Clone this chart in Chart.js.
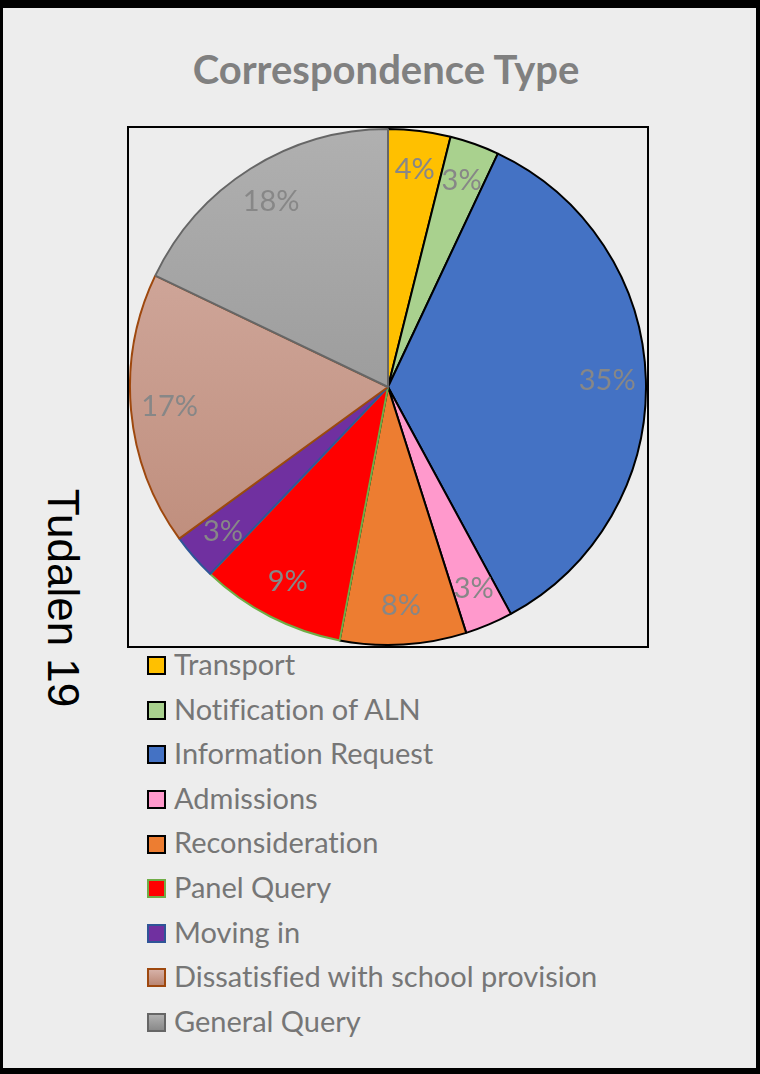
<!DOCTYPE html>
<html>
<head>
<meta charset="utf-8">
<script src="https://cdn.jsdelivr.net/npm/chart.js@4.4.1/dist/chart.umd.min.js"></script>
<style>
  html, body { margin: 0; padding: 0; background: #000; }
  #page { position: relative; width: 760px; height: 1074px; background: #000; overflow: hidden; }
  #inner { position: absolute; left: 3px; top: 8px; width: 753px; height: 1060px; background: #EDEDED; }
  #title { position: absolute; left: 136px; top: 43px; width: 500px; text-align: center;
           font: bold 40px Lato, "Open Sans", sans-serif; color: #808080; line-height: 52px; }
  #plotBox { position: absolute; left: 127px; top: 126px; width: 518px; height: 518px; border: 2px solid #000; }
  #side { position: absolute; left: 63px; top: 598px; transform: translate(-50%, -50%) rotate(90deg);
          font: 44px "Liberation Sans", Arial, sans-serif; color: #000; white-space: nowrap; }
  .leg { position: absolute; left: 147px; height: 30px; line-height: 30px; white-space: nowrap;
         font: 29px Lato, "Open Sans", sans-serif; color: #767676; font-variant-ligatures: none; }
  .leg span { display: inline-block; width: 15px; height: 15px; border: 2px solid #000;
              vertical-align: middle; margin-right: 8px; position: relative; top: -2px; }
</style>
</head>
<body>
<div id="page">
  <div id="inner"></div>
  <div id="title">Correspondence Type</div>
  <div id="plotBox"><canvas id="pie" width="518" height="518"></canvas></div>
  <div id="side">Tudalen 19</div>
  <div id="legend"></div>
</div>
<script>
// Categorïau a gwerthoedd (canran, wedi'u darllen o'r llun)
const categories = [
  'Transport',
  'Notification of ALN',
  'Information Request',
  'Admissions',
  'Reconsideration',
  'Panel Query',
  'Moving in',
  'Dissatisfied with school provision',
  'General Query'
];
const shares = [3.9, 3.1, 35.1, 3.0, 7.9, 9.1, 2.9, 17.1, 17.9];

// Lliwiau'r sleisys: un lliw, neu [top, gwaelod] ar gyfer graddiant
const sliceColors = [
  '#FFC000', '#A9D18E', '#4472C4', '#FF99CC', '#ED7D31',
  '#FF0000', '#7030A0', ['#D6B1A7', '#BA8673'], ['#B0B0B0', '#8A8A8A']
];
const sliceBorders = [
  '#000000', '#000000', '#000000', '#000000', '#000000',
  '#70AD47', '#2F5597', '#9E480E', '#666666'
];

const total = shares.reduce((a, b) => a + b, 0);

function fillFor(chart, i) {
  const c = sliceColors[i];
  if (!Array.isArray(c)) return c;
  const area = chart.chartArea;
  if (!area) return c[1];
  const g = chart.ctx.createLinearGradient(0, area.top, 0, area.bottom);
  g.addColorStop(0, c[0]);
  g.addColorStop(1, c[1]);
  return g;
}

// Labeli canran ar y sleisys
const sliceLabels = {
  id: 'sliceLabels',
  afterDatasetsDraw(chart) {
    const ctx = chart.ctx;
    const meta = chart.getDatasetMeta(0);
    ctx.save();
    ctx.font = '29px Lato, "Open Sans", sans-serif';
    ctx.fillStyle = '#878787';
    ctx.textAlign = 'center';
    ctx.textBaseline = 'middle';
    meta.data.forEach((arc, i) => {
      const p = arc.getProps(['x', 'y', 'startAngle', 'endAngle', 'outerRadius'], true);
      const a = (p.startAngle + p.endAngle) / 2;
      const r = p.outerRadius * 0.85;
      const txt = Math.round(shares[i] / total * 100) + '%';
      ctx.fillText(txt, p.x + Math.cos(a) * r, p.y + Math.sin(a) * r);
    });
    ctx.restore();
  }
};

new Chart(document.getElementById('pie'), {
  type: 'pie',
  data: {
    labels: categories,
    datasets: [{
      data: shares,
      backgroundColor: ctx => fillFor(ctx.chart, ctx.dataIndex),
      borderColor: sliceBorders,
      borderWidth: 2,
      hoverOffset: 0
    }]
  },
  options: {
    responsive: false,
    animation: false,
    layout: { padding: 0 },
    plugins: {
      legend: { display: false },
      tooltip: { enabled: false }
    }
  },
  plugins: [sliceLabels]
});

// Allwedd (legend) fertigol o dan y siart
const legend = document.getElementById('legend');
categories.forEach((name, i) => {
  const row = document.createElement('div');
  row.className = 'leg';
  row.style.top = (663 + i * 44.6 - 17) + 'px';
  const sw = document.createElement('span');
  const c = sliceColors[i];
  sw.style.background = Array.isArray(c) ? 'linear-gradient(' + c[0] + ',' + c[1] + ')' : c;
  sw.style.borderColor = sliceBorders[i];
  row.appendChild(sw);
  row.appendChild(document.createTextNode(name));
  legend.appendChild(row);
});
</script>
</body>
</html>
